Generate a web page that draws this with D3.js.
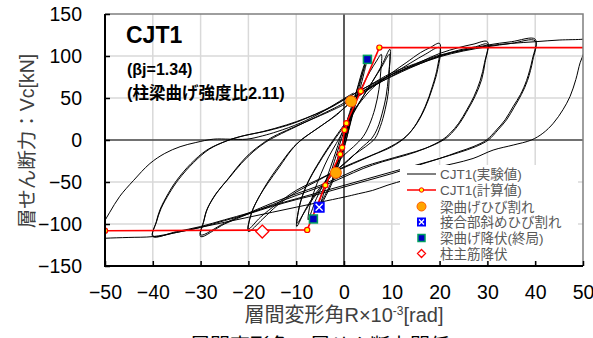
<!DOCTYPE html>
<html>
<head>
<meta charset="utf-8">
<script src="https://cdn.jsdelivr.net/npm/d3@7"></script>
<style>
  body { margin: 0; background: #fff; }
  svg { display: block; font-family: "Liberation Sans", Arial, "Noto Sans CJK JP", sans-serif; }
</style>
</head>
<body>
<svg id="chart" width="593" height="338"></svg>
<script>
// ticks
const xTicks = [-50, -40, -30, -20, -10, 0, 10, 20, 30, 40, 50];
const yTicks = [-150, -100, -50, 0, 50, 100, 150];

// calculated skeleton (R, Vc)
const calcPts = [[-50, -108], [-7.7, -107], [-3.9, -54], [-0.8, -17], [-0.4, -9], [0.1, 12],
  [0.5, 20], [3.5, 58], [7.4, 110], [50, 110]];

// experiment, one array per cycle group [R, Vc]
const loop1 = [[0, 0], [0.5, 12], [1, 20], [0.6, 12], [0, 0], [-0.5, -10], [-1, -18], [-0.6, -10], [0, 0]];
const loop25 = [[0, 0], [0.5, 10], [1.2, 24], [2, 38], [1.7, 30], [0.8, 12], [0, -2], [-0.8, -18], [-1.6, -32],
  [-2.3, -44], [-2, -36], [-1.2, -20], [-0.3, -4], [0.4, 8], [1.2, 26], [2.1, 40], [1.6, 28], [0.6, 8],
  [-0.4, -10], [-1.4, -28], [-2.4, -46], [-1.9, -34], [-0.9, -14], [0, 2]];
const loop5 = [[0, 2], [1, 24], [2, 45], [3, 66], [3.8, 82], [4.4, 92], [4.1, 84], [3.2, 64], [2.2, 42],
  [1.2, 18], [0.3, -4], [-0.8, -24], [-2, -44], [-3.2, -60], [-4.3, -72], [-5.2, -84], [-4.8, -74],
  [-3.8, -56], [-2.6, -36], [-1.5, -16], [-0.5, 2], [0.6, 22], [1.8, 44], [3, 64], [4, 82], [4.6, 90],
  [4.2, 80], [3.2, 58], [2, 34], [0.9, 10], [-0.2, -12], [-1.5, -34], [-2.8, -52], [-4, -66], [-5.4, -80],
  [-5, -70], [-4, -52], [-2.8, -32], [-1.6, -12], [-0.6, 6]];
const loop75 = [[-0.6, 6], [1, 28], [2.5, 48], [4, 66], [5.5, 82], [6.8, 94], [7.8, 102], [7.7, 82],
  [7.3, 60], [6.5, 38], [5.3, 18], [4, 4], [2, -8], [0, -18], [-2, -32], [-4, -50], [-5.8, -70],
  [-7.5, -95], [-7.2, -80], [-6.3, -62], [-4.8, -40], [-3.2, -20], [-1.6, -4], [0, 12]];
const loop10a = [[0, 12], [2, 32], [4, 52], [6, 70], [8, 90], [9.6, 108], [9.5, 84], [9.3, 58], [8.6, 36],
  [7.6, 16], [6.5, 2], [4.5, -8], [2, -18], [0, -28], [-2, -38], [-4, -50], [-6, -64], [-8, -82],
  [-9.9, -103], [-9.6, -86], [-9, -72], [-7.5, -50], [-5.5, -30], [-3.5, -12], [-1.8, 2], [0, 16]];
const loop10b = [[0, 16], [2, 34], [4, 52], [6, 70], [8, 88], [9.5, 102], [9.3, 76], [8.8, 52], [8, 32],
  [7, 14], [5.8, 2], [3.5, -10], [1, -24], [-1.5, -36], [-4, -52], [-6.5, -70], [-8.5, -88], [-9.8, -99],
  [-9.5, -84], [-8.8, -68], [-7.2, -46], [-5.2, -26], [-3.2, -8], [-1.5, 6], [0, 18]];
const loop20a = [[0, 18], [3, 42], [6, 62], [10, 80], [13, 92], [16, 104], [18, 110], [20, 115], [19.6, 88],
  [18.5, 64], [17, 40], [15.2, 20], [13, 4], [10, -8], [6, -18], [2, -28], [-2, -38], [-6, -50], [-10, -62],
  [-14, -78], [-17, -94], [-20, -109], [-19.4, -88], [-17.8, -68], [-16, -52], [-13.5, -32], [-11, -12],
  [-9, 0], [-6, 12], [-3, 24], [0, 38]];
const loop20b = [[0, 38], [3, 52], [6, 64], [10, 78], [14, 92], [17, 102], [20, 110], [19.6, 84], [18.4, 60],
  [16.8, 36], [14.8, 16], [12.5, 2], [9, -10], [5, -20], [0, -32], [-5, -46], [-10, -60], [-14, -76],
  [-17.5, -92], [-20, -106], [-19.3, -86], [-17.6, -66], [-15.5, -46], [-13, -26], [-10.5, -8], [-8, 4],
  [-4.5, 18], [-1.5, 30], [0, 38]];
const loop30a = [[0, 38], [4, 56], [8, 70], [12, 82], [16, 93], [20, 103], [24, 110], [27, 114], [30, 117],
  [29.4, 92], [28.5, 71], [27.2, 52], [25.7, 36], [24, 20], [22.2, 8], [20.5, 0], [17, -10], [13, -18],
  [8, -26], [4, -34], [0, -44], [-5, -56], [-10, -66], [-15, -77], [-20, -88], [-25, -100], [-30, -115],
  [-29.4, -98], [-28.7, -83], [-26.8, -64], [-24.5, -48], [-22, -30], [-19.7, -16], [-17, -4], [-14.8, 4],
  [-11, 14], [-7, 24], [-3, 34], [0, 42]];
const loop30b = [[0, 42], [4, 58], [8, 70], [12, 81], [16, 91], [20, 100], [24, 107], [27.5, 111], [30, 114],
  [29.5, 92], [28.8, 72], [27.5, 53], [26, 37], [24.2, 20], [22.5, 8], [20.8, 0], [17, -10], [13, -17],
  [8, -25], [4, -32], [0, -42], [-5, -54], [-10, -64], [-15, -75], [-20, -87], [-25, -99], [-30, -113],
  [-29.3, -96], [-28.5, -81], [-26.5, -62], [-24, -45], [-21.5, -28], [-19, -14], [-16.5, -3], [-14, 5],
  [-10, 16], [-6, 27], [-2, 38], [0, 44]];
const loop40a = [[0, 44], [5, 62], [10, 78], [15, 90], [20, 100], [25, 107], [30, 113], [35, 117], [40, 120],
  [39.4, 96], [38.2, 71], [36.9, 54], [35.4, 40], [33.7, 24], [31.9, 12], [29.8, 0], [27, -8], [24, -14],
  [20, -22], [15, -30], [10, -38], [5, -46], [0, -54], [-5, -62], [-10, -70], [-15, -78], [-20, -87],
  [-25, -95], [-30, -103], [-35, -109], [-40, -115], [-39.3, -98], [-38.5, -83], [-36.8, -64], [-35, -48],
  [-32, -28], [-28.7, -12], [-25, -2], [-21.8, 4], [-17, 10], [-12, 18], [-8, 26], [-4, 36], [0, 48]];
const loop40b = [[0, 48], [5, 64], [10, 78], [15, 89], [20, 99], [25, 106], [30, 111], [35, 115], [40, 118],
  [39.5, 95], [38.4, 71], [37.1, 54], [35.6, 39], [34, 24], [32.2, 12], [30.2, 0], [27.5, -8], [24, -15],
  [20, -22], [15, -31], [10, -40], [5, -48], [0, -56], [-5, -64], [-10, -71], [-15, -79], [-20, -88],
  [-25, -96], [-30, -104], [-35, -110], [-40, -114], [-39.2, -97], [-38.3, -82], [-36.5, -63], [-34.6, -47],
  [-31.5, -27], [-28.2, -11], [-24.5, -1], [-21, 5], [-16, 11], [-11, 19], [-7, 28], [-3, 38], [0, 48]];
const loop50 = [[0, 48], [5, 64], [10, 80], [15, 91], [20, 101], [25, 107], [30, 112], [35, 115], [40, 117],
  [45, 119], [50, 120], [51, 121], [50.2, 104], [49.4, 92], [48.5, 72], [47.3, 52], [45.8, 36], [43.8, 20],
  [41.6, 8], [39.2, 0], [35.4, -6], [31.2, -12], [27, -22], [23, -28], [20, -32], [16, -40], [13, -47],
  [9, -54], [6, -60], [3, -64], [0, -68], [-5, -74], [-10, -80], [-15, -86], [-20, -92], [-25, -98],
  [-30, -104], [-35, -110], [-40, -115], [-45, -116], [-50, -117], [-52, -118]];
const unload50 = [[-52, -118], [-51, -108], [-50.3, -99], [-49, -86], [-46.9, -67], [-44, -48], [-40.6, -28],
  [-37.5, -16], [-34.3, -8], [-31, -3], [-27.3, 1], [-24, 1], [-20.3, 1], [-17, 5], [-14, 10], [-9.2, 20],
  [-5, 32], [0.2, 50], [2, 56]];
const loops = [loop1, loop25, loop5, loop75, loop10a, loop10b, loop20a, loop20b,
  loop30a, loop30b, loop40a, loop40b, loop50, unload50];

// events
const beamCrack = [[1.5, 46], [-1.7, -39]];
const jointCrack = [[-5.2, -80]];
const beamYield = [[4.9, 96], [-6.4, -94]];
const colYield = [[-17.1, -109]];

const svg = d3.select('#chart');
const x = d3.scaleLinear().domain([-50, 50]).range([105, 583]);
const y = d3.scaleLinear().domain([-150, 150]).range([266, 14]);

svg.append('defs').append('clipPath').attr('id', 'plot')
  .append('rect').attr('x', 105).attr('y', 14).attr('width', 478).attr('height', 252);

// grid
const grid = svg.append('g').attr('stroke', '#d9d9d9').attr('stroke-width', 1.5);
grid.selectAll('.gx').data(xTicks.slice(1, -1)).join('line')
  .attr('x1', (d) => x(d)).attr('x2', (d) => x(d)).attr('y1', y(150)).attr('y2', y(-150));
grid.selectAll('.gy').data(yTicks.slice(1, -1)).join('line')
  .attr('y1', (d) => y(d)).attr('y2', (d) => y(d)).attr('x1', x(-50)).attr('x2', x(50));

// zero lines
svg.append('line').attr('x1', x(-50)).attr('x2', x(50)).attr('y1', y(0)).attr('y2', y(0))
  .attr('stroke', '#000').attr('stroke-width', 1.2);
svg.append('line').attr('x1', x(0)).attr('x2', x(0)).attr('y1', y(150)).attr('y2', y(-150))
  .attr('stroke', '#000').attr('stroke-width', 1.2);

const plot = svg.append('g').attr('clip-path', 'url(#plot)');
const line = d3.line().x((d) => x(d[0])).y((d) => y(d[1])).curve(d3.curveCatmullRom.alpha(0.5));

plot.selectAll('.loop').data(loops).join('path')
  .attr('d', line).attr('fill', 'none').attr('stroke', '#000').attr('stroke-width', 1);

// calc line
plot.append('path').datum(calcPts)
  .attr('d', d3.line().x((d) => x(d[0])).y((d) => y(d[1])))
  .attr('fill', 'none').attr('stroke', '#ff0000').attr('stroke-width', 1.6);
plot.selectAll('.cm').data(calcPts.slice(0, -1)).join('circle')
  .attr('cx', (d) => x(d[0])).attr('cy', (d) => y(d[1])).attr('r', 2.6)
  .attr('fill', '#ffff00').attr('stroke', '#ff0000').attr('stroke-width', 1.2);

// event markers
function drawCrack(g, px, py, r) {
  g.append('circle').attr('cx', px).attr('cy', py).attr('r', r)
    .attr('fill', '#ffa500').attr('stroke', '#ff5a00').attr('stroke-width', 1);
}
function drawJoint(g, px, py, s) {
  g.append('rect').attr('x', px - s / 2).attr('y', py - s / 2).attr('width', s).attr('height', s)
    .attr('fill', '#0000ff').attr('stroke', '#0000ff');
  g.append('path').attr('d', `M${px - s / 2 + 1.5},${py - s / 2 + 1.5}L${px + s / 2 - 1.5},${py + s / 2 - 1.5}M${px + s / 2 - 1.5},${py - s / 2 + 1.5}L${px - s / 2 + 1.5},${py + s / 2 - 1.5}`)
    .attr('stroke', '#fff').attr('stroke-width', 1.3);
}
function drawYield(g, px, py, s) {
  g.append('rect').attr('x', px - s / 2).attr('y', py - s / 2).attr('width', s).attr('height', s)
    .attr('fill', '#0000c0').attr('stroke', '#00a060').attr('stroke-width', 1.5);
}
function drawDiamond(g, px, py, s) {
  g.append('path').attr('d', `M${px},${py - s}L${px + s},${py}L${px},${py + s}L${px - s},${py}Z`)
    .attr('fill', '#fff').attr('stroke', '#ff0000').attr('stroke-width', 1.3);
}
beamCrack.forEach((d) => drawCrack(plot, x(d[0]), y(d[1]), 5.5));
jointCrack.forEach((d) => drawJoint(plot, x(d[0]), y(d[1]), 10));
beamYield.forEach((d) => drawYield(plot, x(d[0]), y(d[1]), 8));
colYield.forEach((d) => drawDiamond(plot, x(d[0]), y(d[1]), 6.5));

// frame
svg.append('path').attr('d', `M${x(-50)},${y(150)}H${x(50)}V${y(-150)}`)
  .attr('fill', 'none').attr('stroke', '#7f7f7f').attr('stroke-width', 1.5);
svg.append('path').attr('d', `M${x(-50)},${y(150)}V${y(-150)}H${x(50)}`)
  .attr('fill', 'none').attr('stroke', '#000').attr('stroke-width', 2);

// axes
const xAxis = svg.append('g').attr('transform', `translate(0,${y(-150)})`)
  .call(d3.axisBottom(x).tickValues(xTicks).tickSize(-5).tickPadding(19));
const yAxis = svg.append('g').attr('transform', `translate(${x(-50)},0)`)
  .call(d3.axisLeft(y).tickValues(yTicks).tickSize(-5).tickPadding(23));
[xAxis, yAxis].forEach((a) => {
  a.select('.domain').remove();
  a.selectAll('line').attr('stroke', '#000').attr('stroke-width', 1.5);
  a.selectAll('text').attr('font-size', 19.5).attr('fill', '#000')
    .attr('font-family', '"Liberation Sans", Arial, sans-serif');
});

// titles
svg.append('text').attr('x', 126).attr('y', 43).attr('font-size', 23).attr('font-weight', 'bold')
  .text('CJT1');
svg.append('text').attr('x', 127).attr('y', 75).attr('font-size', 16).attr('font-weight', 'bold')
  .text('(βj=1.34)');
svg.append('text').attr('x', 127).attr('y', 99).attr('font-size', 16.5).attr('font-weight', 'bold')
  .text('(柱梁曲げ強度比2.11)');

svg.append('text').attr('transform', 'translate(34,141) rotate(-90)').attr('text-anchor', 'middle')
  .attr('font-size', 19.5).attr('fill', '#404040').text('層せん断力：Vc[kN]');
const xl = svg.append('text').attr('x', 344).attr('y', 322).attr('text-anchor', 'middle')
  .attr('font-size', 20).attr('fill', '#404040');
xl.append('tspan').text('層間変形角R×10');
xl.append('tspan').attr('dy', -7).attr('font-size', 12).text('-3');
xl.append('tspan').attr('dy', 7).text('[rad]');

svg.append('text').attr('x', 160).attr('y', 353).attr('font-size', 20).attr('fill', '#000')
  .text('(b) 層間変形角－層せん断力関係');

// legend
const lg = svg.append('g');
lg.append('rect').attr('x', 400).attr('y', 165).attr('width', 178).attr('height', 96).attr('fill', '#fff');
const rows = [174, 190, 206.5, 222, 238, 253.5];
const labels = ['CJT1(実験値)', 'CJT1(計算値)', '梁曲げひび割れ', '接合部斜めひび割れ', '梁曲げ降伏(終局)', '柱主筋降伏'];
lg.append('line').attr('x1', 407).attr('x2', 436).attr('y1', rows[0]).attr('y2', rows[0])
  .attr('stroke', '#000').attr('stroke-width', 1);
lg.append('line').attr('x1', 407).attr('x2', 436).attr('y1', rows[1]).attr('y2', rows[1])
  .attr('stroke', '#ff0000').attr('stroke-width', 1.5);
lg.append('circle').attr('cx', 421.5).attr('cy', rows[1]).attr('r', 2.2)
  .attr('fill', '#ffff00').attr('stroke', '#ff0000').attr('stroke-width', 1);
drawCrack(lg, 421.5, rows[2], 4.5);
drawJoint(lg, 421.5, rows[3], 8);
drawYield(lg, 421.5, rows[4], 7);
drawDiamond(lg, 421.5, rows[5], 4);
lg.selectAll('.lt').data(labels).join('text')
  .attr('x', 440).attr('y', (d, i) => rows[i] + 5)
  .attr('font-size', 13.5).attr('fill', '#595959').text((d) => d);
</script>
</body>
</html>
